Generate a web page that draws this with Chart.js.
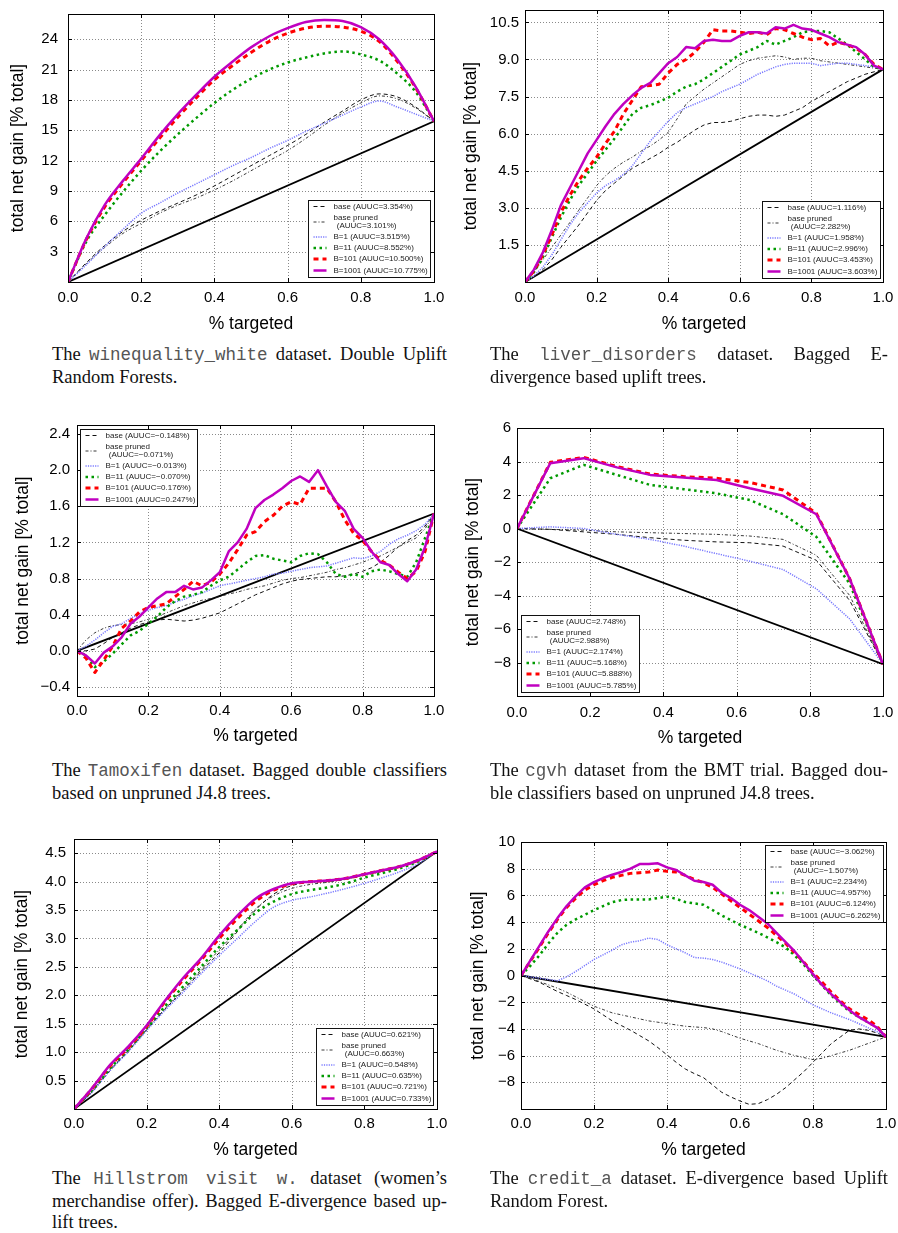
<!DOCTYPE html>
<html><head><meta charset="utf-8">
<script src="https://cdn.jsdelivr.net/npm/chart.js@4.4.0/dist/chart.umd.min.js"></script>
<style>
html,body{margin:0;padding:0;background:#fff;}
#page{position:relative;width:898px;height:1233px;overflow:hidden;background:#fff;}
canvas{position:absolute;}
.cap{position:absolute;font-family:"Liberation Serif","Times New Roman",serif;font-size:18.5px;line-height:21.7px;color:#111;}
.cap div{white-space:nowrap;text-align:justify;text-align-last:justify;}
.cap div.last{text-align-last:left;}
.tt{font-family:"Liberation Mono","Courier New",monospace;font-size:17.5px;color:#555;}
</style>
</head><body><div id="page"></div>
<script>
// ---------- shared labels ----------
const SERIES_NAMES = ["base", "base pruned", "B=1", "B=11", "B=101", "B=1001"];
const X_TICKS = [0, 0.2, 0.4, 0.6, 0.8, 1.0];
const X_TITLE = "% targeted";
const Y_TITLE = "total net gain [% total]";
const DIAG_X = [0, 1];

// ---------- x grids ----------
const X21 = [0,0.05,0.1,0.15,0.2,0.25,0.3,0.35,0.4,0.45,0.5,0.55,0.6,0.65,0.7,0.75,0.8,0.85,0.9,0.95,1];
const X41 = [0,0.025,0.05,0.075,0.1,0.125,0.15,0.175,0.2,0.225,0.25,0.275,0.3,0.325,0.35,0.375,0.4,0.425,0.45,0.475,0.5,0.525,0.55,0.575,0.6,0.625,0.65,0.675,0.7,0.725,0.75,0.775,0.8,0.825,0.85,0.875,0.9,0.925,0.95,0.975,1];
const CGVH_X = [0,0.091,0.182,0.273,0.364,0.455,0.545,0.636,0.727,0.818,0.909,1];

// ---------- 1: winequality_white ----------
const wineYTicks = [3,6,9,12,15,18,21,24];
const wineAUUC = ["3.354%","3.101%","3.515%","8.552%","10.500%","10.775%"];
const wineBase   = [0,1.9,3.6,5.0,6.1,7.0,7.8,8.6,9.5,10.5,11.5,12.5,13.5,14.6,15.8,16.9,18.0,18.6,18.3,17.3,15.9];
const winePruned = [0,1.8,3.4,4.8,5.8,6.8,7.6,8.3,9.1,10.0,11.0,12.0,13.0,14.2,15.5,16.7,17.7,18.4,18.1,17.2,15.9];
const wineB1     = [0,1.7,3.5,5.2,6.8,7.8,8.8,9.7,10.6,11.5,12.3,13.2,14.0,14.9,15.7,16.5,17.3,17.9,17.3,16.6,15.9];
const wineB11    = [0,4.0,6.6,8.9,11.0,12.9,14.6,16.2,17.7,19.0,20.1,21.0,21.7,22.2,22.6,22.8,22.5,21.9,20.6,18.8,15.9];
const wineB101   = [0,4.2,7.4,9.8,12.0,14.2,16.3,18.2,20.0,21.4,22.7,23.8,24.6,25.1,25.3,25.2,24.8,23.8,21.8,19.2,15.9];
const wineB1001  = [0,4.3,7.6,10.0,12.2,14.5,16.6,18.5,20.3,21.8,23.2,24.3,25.1,25.7,25.9,25.8,25.2,24.0,22.0,19.3,15.9];
const wineDiag   = [0,15.9];

// ---------- 2: liver_disorders ----------
const liverYTicks = [1.5,3.0,4.5,6.0,7.5,9.0,10.5];
const liverAUUC = ["1.116%","2.282%","1.958%","2.996%","3.453%","3.603%"];
const liverBase   = [0,0.2,0.5,0.9,1.4,1.85,2.3,2.8,3.3,3.7,4.0,4.3,4.6,4.8,5.0,5.2,5.45,5.65,5.9,6.15,6.35,6.45,6.45,6.5,6.6,6.7,6.75,6.75,6.7,6.75,6.9,7.05,7.3,7.5,7.7,7.9,8.1,8.25,8.4,8.5,8.6];
const liverPruned = [0,0.4,0.9,1.4,1.9,2.4,2.9,3.4,3.9,4.3,4.6,4.85,5.05,5.3,5.5,5.75,6.05,6.6,7.2,7.5,7.8,8.05,8.3,8.55,8.8,8.95,9.05,9.1,9.15,9.1,9.0,9.05,9.05,8.95,8.9,8.85,8.8,8.75,8.7,8.65,8.6];
const liverB1     = [0,0.25,0.6,1.1,1.7,2.3,2.8,3.2,3.6,3.9,4.1,4.35,4.7,5.2,5.7,6.1,6.5,6.85,7.05,7.2,7.35,7.5,7.7,7.85,8.0,8.2,8.4,8.55,8.7,8.8,8.85,8.85,8.85,8.75,8.8,8.85,8.85,8.8,8.75,8.7,8.6];
const liverB11    = [0,0.4,1.0,1.8,2.6,3.3,3.9,4.4,4.9,5.35,5.8,6.3,6.8,7.05,7.15,7.3,7.45,7.7,7.9,8.0,8.2,8.45,8.7,8.95,9.2,9.35,9.5,9.75,9.6,9.75,9.9,10.1,10.15,10.15,10.1,9.85,9.6,9.3,9.0,8.7,8.6];
const liverB101   = [0,0.45,1.1,1.9,2.8,3.5,4.1,4.6,5.05,5.6,6.1,6.8,7.35,7.9,7.95,8.0,8.45,8.8,9.0,9.3,9.7,10.2,10.15,10.15,10.1,10.05,10.1,10.0,10.25,10.2,10.05,9.9,9.8,9.85,9.55,9.7,9.6,9.45,9.2,8.8,8.6];
const liverB1001  = [0,0.5,1.2,2.1,3.1,3.8,4.5,5.2,5.75,6.3,6.8,7.2,7.55,7.85,8.05,8.45,8.85,9.1,9.5,9.45,9.75,9.8,9.75,9.75,9.95,10.1,10.1,10.05,10.3,10.25,10.4,10.25,10.2,10.05,9.9,9.7,9.6,9.5,9.2,8.75,8.6];
const liverDiag   = [0,8.6];

// ---------- 3: Tamoxifen ----------
const tamoxYTicks = [-0.4,0.0,0.4,0.8,1.2,1.6,2.0,2.4];
const tamoxAUUC = ["\u22120.148%","\u22120.071%","\u22120.013%","\u22120.070%","0.176%","0.247%"];
const tamoxBase   = [0,0.0,0.02,0.08,0.15,0.2,0.25,0.29,0.32,0.34,0.35,0.34,0.33,0.34,0.36,0.39,0.42,0.47,0.52,0.57,0.62,0.66,0.7,0.74,0.77,0.79,0.8,0.81,0.82,0.82,0.83,0.85,0.88,0.92,0.98,1.06,1.15,1.22,1.28,1.38,1.52];
const tamoxPruned = [0,0.12,0.2,0.25,0.28,0.29,0.3,0.32,0.35,0.38,0.42,0.46,0.5,0.53,0.56,0.58,0.6,0.63,0.65,0.68,0.7,0.72,0.75,0.78,0.8,0.81,0.83,0.85,0.87,0.9,0.92,0.95,0.98,1.02,1.05,1.1,1.15,1.2,1.25,1.35,1.52];
const tamoxB1     = [0,0.05,0.12,0.2,0.27,0.3,0.36,0.41,0.45,0.48,0.5,0.54,0.57,0.61,0.64,0.68,0.72,0.74,0.76,0.78,0.8,0.82,0.85,0.86,0.88,0.9,0.92,0.93,0.94,0.97,1.0,1.03,1.02,1.05,1.1,1.18,1.24,1.28,1.33,1.4,1.52];
const tamoxB11    = [0,-0.05,-0.18,-0.12,-0.03,0.07,0.17,0.22,0.3,0.38,0.48,0.55,0.6,0.62,0.65,0.72,0.78,0.82,0.9,0.98,1.05,1.06,1.02,1.0,0.98,1.05,1.08,1.07,0.98,0.85,0.82,0.85,0.82,0.88,0.9,0.88,0.85,0.82,0.98,1.25,1.52];
const tamoxB101   = [0,-0.08,-0.24,-0.1,0.05,0.25,0.33,0.43,0.48,0.5,0.52,0.6,0.68,0.77,0.72,0.76,0.85,0.97,1.12,1.28,1.32,1.43,1.5,1.6,1.65,1.62,1.8,1.8,1.8,1.65,1.45,1.3,1.22,1.1,1.0,0.95,0.87,0.8,0.88,1.1,1.52];
const tamoxB1001  = [0,-0.05,-0.14,-0.02,0.05,0.15,0.3,0.38,0.48,0.58,0.65,0.65,0.72,0.68,0.7,0.78,0.87,1.1,1.2,1.35,1.58,1.67,1.73,1.8,1.88,1.93,1.87,2.0,1.82,1.65,1.55,1.35,1.25,1.1,0.98,0.95,0.85,0.77,0.9,1.15,1.52];
const tamoxDiag   = [0,1.52];

// ---------- 4: cgvh ----------
const cgvhYTicks = [-8,-6,-4,-2,0,2,4,6];
const cgvhAUUC = ["2.748%","2.988%","2.174%","5.168%","5.888%","5.785%"];
const cgvhBase   = [0,-0.05,-0.2,-0.35,-0.55,-0.7,-0.8,-0.85,-1.05,-1.9,-4.3,-8.1];
const cgvhPruned = [0,-0.05,-0.1,-0.2,-0.25,-0.3,-0.35,-0.45,-0.65,-1.6,-4.0,-8.1];
const cgvhB1     = [0,0.1,0.0,-0.35,-0.65,-1.05,-1.5,-1.95,-2.45,-3.6,-5.4,-8.1];
const cgvhB11    = [0,3.0,3.8,3.2,2.6,2.35,2.1,1.7,0.85,-0.5,-3.3,-8.1];
const cgvhB101   = [0,3.95,4.25,3.7,3.25,3.1,3.0,2.75,2.3,0.9,-3.0,-8.1];
const cgvhB1001  = [0,3.9,4.2,3.65,3.2,3.05,2.9,2.4,1.95,0.85,-3.0,-8.1];
const cgvhDiag   = [0,-8.1];

// ---------- 5: Hillstrom ----------
const hillYTicks = [0.5,1.0,1.5,2.0,2.5,3.0,3.5,4.0,4.5];
const hillAUUC = ["0.621%","0.663%","0.548%","0.635%","0.721%","0.733%"];
const hillBase   = [0,0.3,0.68,1.02,1.39,1.75,2.08,2.42,2.75,3.12,3.5,3.78,3.93,3.99,4.01,4.05,4.12,4.19,4.26,4.37,4.53];
const hillPruned = [0,0.32,0.7,1.03,1.4,1.76,2.1,2.45,2.8,3.15,3.52,3.75,3.88,3.95,3.99,4.04,4.11,4.18,4.26,4.37,4.53];
const hillB1     = [0,0.3,0.68,1.01,1.38,1.73,2.05,2.38,2.7,3.0,3.3,3.55,3.67,3.73,3.8,3.88,3.97,4.07,4.18,4.32,4.53];
const hillB11    = [0,0.33,0.72,1.05,1.42,1.8,2.15,2.5,2.85,3.15,3.45,3.65,3.78,3.85,3.9,3.97,4.07,4.15,4.24,4.36,4.53];
const hillB101   = [0,0.36,0.76,1.08,1.45,1.88,2.27,2.62,3.0,3.35,3.65,3.85,3.96,4.0,4.02,4.06,4.13,4.2,4.27,4.38,4.53];
const hillB1001  = [0,0.37,0.78,1.1,1.47,1.9,2.3,2.65,3.05,3.4,3.7,3.87,3.97,4.0,4.02,4.06,4.13,4.2,4.27,4.38,4.53];
const hillDiag   = [0,4.53];

// ---------- 6: credit_a ----------
const creditYTicks = [-8,-6,-4,-2,0,2,4,6,8,10];
const creditAUUC = ["\u22123.062%","\u22121.507%","2.234%","4.957%","6.124%","6.262%"];
const creditBase   = [0,-0.25,-0.5,-0.85,-1.2,-1.5,-1.8,-2.15,-2.5,-2.95,-3.4,-3.75,-4.1,-4.5,-4.9,-5.4,-5.95,-6.5,-7.0,-7.35,-7.65,-8.2,-8.75,-9.1,-9.4,-9.65,-9.6,-9.3,-8.9,-8.4,-7.8,-7.2,-6.5,-5.8,-5.1,-4.6,-4.1,-4.0,-4.1,-4.3,-4.6];
const creditPruned = [0,-0.2,-0.45,-0.7,-0.95,-1.25,-1.6,-1.95,-2.3,-2.55,-2.8,-2.95,-3.1,-3.25,-3.4,-3.5,-3.6,-3.7,-3.8,-3.85,-3.9,-4.0,-4.2,-4.45,-4.7,-4.9,-5.1,-5.35,-5.6,-5.8,-6.0,-6.15,-6.3,-6.2,-6.0,-5.8,-5.6,-5.35,-5.1,-4.85,-4.6];
const creditB1     = [0,-0.1,-0.2,-0.3,-0.4,-0.1,0.3,0.75,1.2,1.55,1.9,2.3,2.5,2.6,2.8,2.7,2.3,2.0,1.7,1.35,1.3,1.2,1.0,0.75,0.5,0.2,-0.1,-0.4,-0.8,-1.1,-1.4,-1.8,-2.2,-2.5,-2.8,-3.05,-3.3,-3.6,-3.9,-4.2,-4.6];
const creditB11    = [0,0.7,1.5,2.4,3.2,3.8,4.2,4.55,4.9,5.2,5.5,5.65,5.7,5.7,5.7,5.8,5.9,5.75,5.5,5.4,5.3,4.9,4.5,4.15,3.8,3.5,3.2,2.85,2.5,2.1,1.5,0.8,0.0,-0.75,-1.5,-2.1,-2.7,-3.1,-3.5,-3.9,-4.6];
const creditB101   = [0,1.05,2.1,3.2,4.2,5.1,5.8,6.4,6.8,7.1,7.35,7.5,7.65,7.7,7.75,7.9,7.8,7.75,7.5,7.2,6.95,6.6,6.1,5.6,5.1,4.6,4.1,3.6,3.0,2.4,1.7,1.0,0.2,-0.5,-1.25,-1.9,-2.5,-2.9,-3.3,-3.8,-4.6];
const creditB1001  = [0,1.1,2.2,3.3,4.3,5.2,5.95,6.6,7.0,7.3,7.55,7.75,8.0,8.35,8.35,8.4,8.1,7.9,7.5,7.1,7.0,6.8,6.2,5.8,5.3,4.9,4.4,3.9,3.2,2.5,1.8,0.95,0.1,-0.7,-1.4,-2.0,-2.6,-3.1,-3.5,-3.9,-4.6];
const creditDiag   = [0,-4.6];

// ---------- styles ----------
const STYLES = [
  {color:'#111111', width:1,   dash:[4,3]},
  {color:'#222222', width:0.9, dash:[3,2,1,2]},
  {color:'#7878ff', width:1.5, dash:[1.2,1.2]},
  {color:'#009a00', width:2.5, dash:[2.5,3.5]},
  {color:'#ff0000', width:3,   dash:[5,4]},
  {color:'#c000c0', width:2.5, dash:[]}
];
const FONT = '"Liberation Sans", Arial, sans-serif';
const MINUS = '\u2212';
function fmt(kind){
  return function(v){
    let s = kind === 'int' ? String(Math.round(v)) : Number(v).toFixed(1);
    if (s.charAt(0) === '-') s = MINUS + s.slice(1);
    if (s === MINUS + '0.0') s = '0.0';
    return s;
  };
}

const frameLegendPlugin = {
  id: 'frameLegend',
  beforeDatasetsDraw(chart, args, opts) {
    const {ctx, chartArea: a, scales: {x, y}} = chart;
    ctx.save();
    ctx.strokeStyle = '#8a8a8a'; ctx.lineWidth = 1; ctx.setLineDash([1, 2]);
    ctx.beginPath();
    for (const t of x.ticks) {
      const px = Math.round(x.getPixelForValue(t.value)) + 0.5;
      if (px <= a.left + 1 || px >= a.right - 1) continue;
      ctx.moveTo(px, a.top); ctx.lineTo(px, a.bottom);
    }
    for (const t of y.ticks) {
      const py = Math.round(y.getPixelForValue(t.value)) + 0.5;
      if (py <= a.top + 1 || py >= a.bottom - 1) continue;
      ctx.moveTo(a.left, py); ctx.lineTo(a.right, py);
    }
    ctx.stroke();
    ctx.restore();
  },
  afterDatasetsDraw(chart, args, opts) {
    const {ctx, chartArea: a, scales: {x, y}} = chart;
    ctx.save();
    ctx.setLineDash([]);
    ctx.strokeStyle = '#000'; ctx.lineWidth = 1;
    ctx.beginPath();
    for (const t of x.ticks) {
      const px = Math.round(x.getPixelForValue(t.value)) + 0.5;
      ctx.moveTo(px, a.bottom); ctx.lineTo(px, a.bottom - 4);
      ctx.moveTo(px, a.top); ctx.lineTo(px, a.top + 4);
    }
    for (const t of y.ticks) {
      const py = Math.round(y.getPixelForValue(t.value)) + 0.5;
      ctx.moveTo(a.left, py); ctx.lineTo(a.left + 4, py);
      ctx.moveTo(a.right, py); ctx.lineTo(a.right - 4, py);
    }
    ctx.stroke();
    ctx.strokeRect(Math.round(a.left) + 0.5, Math.round(a.top) + 0.5, Math.round(a.right - a.left), Math.round(a.bottom - a.top));
    const lg = opts.legend;
    const w = lg.w, h = 77;
    let bx, by;
    if (lg.corner === 'br') { bx = a.right - lg.dx - w; by = a.bottom - lg.dy - h; }
    else if (lg.corner === 'bl') { bx = a.left + lg.dx; by = a.bottom - lg.dy - h; }
    else if (lg.corner === 'tl') { bx = a.left + lg.dx; by = a.top + lg.dy; }
    else { bx = a.right - lg.dx - w; by = a.top + lg.dy; }
    bx = Math.round(bx) + 0.5; by = Math.round(by) + 0.5;
    ctx.fillStyle = '#fff';
    ctx.fillRect(bx, by, w, h);
    ctx.strokeStyle = '#111'; ctx.lineWidth = 1;
    ctx.strokeRect(bx, by, w, h);
    const rowY = [6, 21.5, 36.5, 47.5, 58.5, 70];
    ctx.font = '8px ' + FONT;
    ctx.textBaseline = 'middle';
    ctx.textAlign = 'left';
    for (let i = 0; i < 6; i++) {
      const st = STYLES[i];
      const yy = by + rowY[i];
      ctx.save();
      ctx.strokeStyle = st.color; ctx.lineWidth = st.width; ctx.setLineDash(st.dash);
      ctx.beginPath(); ctx.moveTo(bx + 5, yy); ctx.lineTo(bx + 18, yy); ctx.stroke();
      ctx.restore();
      ctx.fillStyle = '#222';
      if (i === 1) {
        ctx.fillText(SERIES_NAMES[i], bx + 25, by + 17);
        ctx.fillText(' (AUUC=' + lg.auuc[i] + ')', bx + 26, by + 25.7);
      } else {
        ctx.fillText(SERIES_NAMES[i] + ' (AUUC=' + lg.auuc[i] + ')', bx + 25, yy);
      }
    }
    ctx.restore();
  }
};

const CHARTS = [
  {col:0, L:68,  T:9,   R:434, B:282,  yTitleX:18,  xTitleY:324,  xTickPad:7,   yTickPad:10, ymin:0,    ymax:26.5, yTicks:wineYTicks,  yFmt:'int', xs:X21,    s:[wineBase,winePruned,wineB1,wineB11,wineB101,wineB1001],       diag:wineDiag,   auuc:wineAUUC,   legend:{corner:'br', dx:4, dy:5, w:122}, tension:0.35},
  {col:1, L:525, T:9,   R:883, B:282,  yTitleX:471, xTitleY:324,  xTickPad:7,   yTickPad:6,  ymin:0,    ymax:11.0, yTicks:liverYTicks, yFmt:'dec', xs:X41,    s:[liverBase,liverPruned,liverB1,liverB11,liverB101,liverB1001], diag:liverDiag,  auuc:liverAUUC,  legend:{corner:'br', dx:3, dy:4, w:118}, tension:0},
  {col:0, L:77,  T:423, R:434, B:696,  yTitleX:23,  xTitleY:736,  xTickPad:5.5, yTickPad:7,  ymin:-0.5, ymax:2.5,  yTicks:tamoxYTicks, yFmt:'dec', xs:X41,    s:[tamoxBase,tamoxPruned,tamoxB1,tamoxB11,tamoxB101,tamoxB1001], diag:tamoxDiag,  auuc:tamoxAUUC,  legend:{corner:'tl', dx:3, dy:4, w:117}, tension:0},
  {col:1, L:517, T:427, R:883, B:696,  yTitleX:473, xTitleY:738,  xTickPad:7.5, yTickPad:6,  ymin:-10,  ymax:6,    yTicks:cgvhYTicks,  yFmt:'int', xs:CGVH_X, s:[cgvhBase,cgvhPruned,cgvhB1,cgvhB11,cgvhB101,cgvhB1001],       diag:cgvhDiag,   auuc:cgvhAUUC,   legend:{corner:'bl', dx:4, dy:4, w:118}, tension:0},
  {col:0, L:74,  T:836, R:437, B:1109, yTitleX:22,  xTitleY:1150, xTickPad:6,   yTickPad:8,  ymin:0,    ymax:4.75, yTicks:hillYTicks,  yFmt:'dec', xs:X21,    s:[hillBase,hillPruned,hillB1,hillB11,hillB101,hillB1001],       diag:hillDiag,   auuc:hillAUUC,   legend:{corner:'br', dx:4, dy:4, w:117}, tension:0.3},
  {col:1, L:521, T:841, R:886, B:1109, yTitleX:478, xTitleY:1150, xTickPad:6,   yTickPad:6,  ymin:-10,  ymax:10,   yTicks:creditYTicks,yFmt:'int', xs:X41,    s:[creditBase,creditPruned,creditB1,creditB11,creditB101,creditB1001], diag:creditDiag, auuc:creditAUUC, legend:{corner:'tr', dx:3, dy:3, w:118}, tension:0}
];

const page = document.getElementById('page');

CHARTS.forEach(function(cfg){
  const cx = cfg.col ? 448 : 0;
  const cy = cfg.T - 14;
  const cw = cfg.R + 20 - cx;
  const ch = cfg.xTitleY + 16 - cy;
  const canvas = document.createElement('canvas');
  canvas.width = cw; canvas.height = ch;
  canvas.style.left = cx + 'px'; canvas.style.top = cy + 'px';
  canvas.style.width = cw + 'px'; canvas.style.height = ch + 'px';
  page.appendChild(canvas);

  const datasets = cfg.s.map(function(arr, i){
    const st = STYLES[i];
    return {
      label: SERIES_NAMES[i],
      data: cfg.xs.map(function(xv, j){ return {x: xv, y: arr[j]}; }),
      borderColor: st.color, borderWidth: st.width, borderDash: st.dash,
      pointRadius: 0, fill: false, tension: cfg.tension,
      cubicInterpolationMode: cfg.tension ? 'monotone' : 'default',
      borderJoinStyle: 'round', order: 6 - i
    };
  });
  datasets.push({
    label: 'diagonal',
    data: DIAG_X.map(function(xv, j){ return {x: xv, y: cfg.diag[j]}; }),
    borderColor: '#000', borderWidth: 1.8, pointRadius: 0, fill: false, tension: 0, order: 7
  });

  const titleFont = {family: FONT, size: 17.5, lineHeight: 1};
  new Chart(canvas, {
    type: 'line',
    data: {datasets: datasets},
    options: {
      responsive: false, animation: false, devicePixelRatio: 1, events: [],
      layout: {padding: {top: 14, right: 20, left: 0, bottom: 0}},
      plugins: {
        legend: {display: false}, tooltip: {enabled: false},
        frameLegend: {legend: Object.assign({auuc: cfg.auuc}, cfg.legend)}
      },
      scales: {
        x: {
          type: 'linear', min: 0, max: 1,
          afterBuildTicks: function(s){ s.ticks = X_TICKS.map(function(v){ return {value: v}; }); },
          afterFit: function(s){ s.height = cy + ch - cfg.B; },
          grid: {display: false, drawTicks: false}, border: {display: false},
          ticks: {callback: function(v){ return Number(v).toFixed(1); }, font: {family: FONT, size: 15}, color: '#000', padding: cfg.xTickPad, maxRotation: 0, autoSkip: false},
          title: {display: true, text: X_TITLE, font: titleFont, color: '#000', padding: {top: 0, bottom: 7.25}}
        },
        y: {
          type: 'linear', min: cfg.ymin, max: cfg.ymax,
          afterBuildTicks: function(s){ s.ticks = cfg.yTicks.map(function(v){ return {value: v}; }); },
          afterFit: function(s){ s.width = cfg.L - cx; },
          grid: {display: false, drawTicks: false}, border: {display: false},
          ticks: {callback: fmt(cfg.yFmt), font: {family: FONT, size: 15}, color: '#000', padding: cfg.yTickPad, autoSkip: false},
          title: {display: true, text: Y_TITLE, font: titleFont, color: '#000', padding: {top: cfg.yTitleX - cx - 8.75, bottom: 0}}
        }
      }
    },
    plugins: [frameLegendPlugin]
  });
});

// ---------- captions ----------
const CAPTIONS = [
  {left:52,  top:344,  width:395, lines:['The <span class="tt">winequality_white</span> dataset. Double Uplift', 'Random Forests.']},
  {left:490, top:344,  width:398, lines:['The <span class="tt">liver_disorders</span> dataset. Bagged E-', 'divergence based uplift trees.']},
  {left:52,  top:760,  width:395, lines:['The <span class="tt">Tamoxifen</span> dataset. Bagged double classifiers', 'based on unpruned J4.8 trees.']},
  {left:490, top:760,  width:398, lines:['The <span class="tt">cgvh</span> dataset from the BMT trial. Bagged dou-', 'ble classifiers based on unpruned J4.8 trees.']},
  {left:52,  top:1168, width:395, lines:['The <span class="tt">Hillstrom visit w.</span> dataset (women\u2019s', 'merchandise offer). Bagged E-divergence based up-', 'lift trees.']},
  {left:490, top:1168, width:398, lines:['The <span class="tt">credit_a</span> dataset. E-divergence based Uplift', 'Random Forest.']}
];
CAPTIONS.forEach(function(c){
  const d = document.createElement('div');
  d.className = 'cap';
  d.style.left = c.left + 'px'; d.style.top = c.top + 'px'; d.style.width = c.width + 'px';
  d.innerHTML = c.lines.map(function(l, i){
    return '<div' + (i === c.lines.length - 1 ? ' class="last"' : '') + '>' + l + '</div>';
  }).join('');
  page.appendChild(d);
});
</script>
</body></html>
